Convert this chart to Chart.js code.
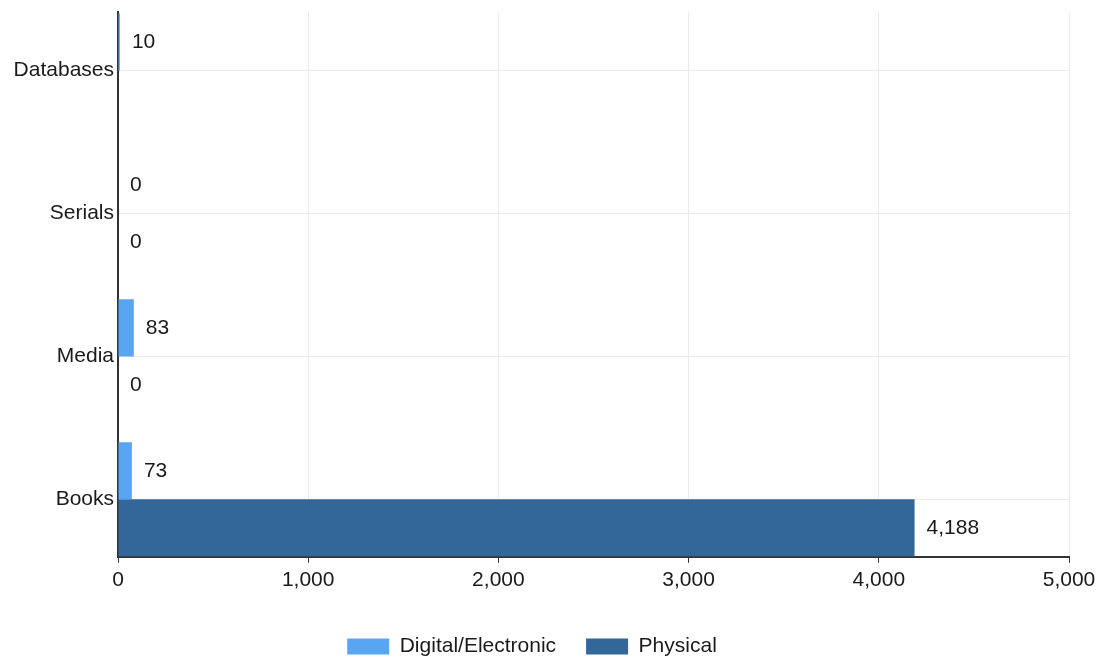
<!DOCTYPE html>
<html>
<head>
<meta charset="utf-8">
<script src="https://cdn.jsdelivr.net/npm/chart.js@4/dist/chart.umd.min.js"></script>
<style>
  html, body { margin: 0; padding: 0; background: #fff; }
  #wrap { width: 1097px; height: 663px; position: relative; }
</style>
</head>
<body>
<div id="wrap"><canvas id="chart"></canvas></div>
<script>
// categories, top to bottom
const categories = ['Databases', 'Serials', 'Media', 'Books'];
const digitalValues = [10, 0, 83, 73];
const physicalValues = [null, 0, 0, 4188];
const xTicks = [0, 1000, 2000, 3000, 4000, 5000];

const FONT = 'Liberation Sans';
const FSIZE = 21;

// value labels to the right of each bar
const valueLabels = {
    id: 'valueLabels',
    afterDatasetsDraw(chart) {
        const ctx = chart.ctx;
        ctx.save();
        ctx.font = FSIZE + 'px "' + FONT + '"';
        ctx.fillStyle = '#1a1a1a';
        ctx.textBaseline = 'middle';
        ctx.textAlign = 'left';
        chart.data.datasets.forEach((ds, i) => {
            const meta = chart.getDatasetMeta(i);
            meta.data.forEach((bar, j) => {
                const v = ds.data[j];
                if (v === null || v === undefined) return;
                ctx.fillText(v.toLocaleString('en-US'), bar.x + 12, bar.y);
            });
        });
        ctx.restore();
    }
};

// the original lets the outer category bands run to the plot edges,
// and its legend sits a bit left of centre and lower
const layoutTweak = {
    id: 'layoutTweak',
    afterLayout(chart) {
        const y = chart.scales.y;
        y._startPixel = y.top - 13;
        y._endPixel = y.bottom + 14;
        y._length = y._endPixel - y._startPixel;
        const lg = chart.legend;
        if (lg) {
            lg.left -= 16; lg.right -= 16;
            lg.top += 4; lg.bottom += 4;
        }
    }
};

new Chart(document.getElementById('chart'), {
    type: 'bar',
    data: {
        labels: categories,
        datasets: [{
            label: 'Digital/Electronic',
            data: digitalValues,
            backgroundColor: '#58a6f2'
        }, {
            label: 'Physical',
            data: physicalValues,
            backgroundColor: '#336699'
        }]
    },
    options: {
        indexAxis: 'y',
        responsive: true,
        maintainAspectRatio: false,
        animation: false,
        datasets: {
            bar: { categoryPercentage: 0.8, barPercentage: 1.0 }
        },
        layout: { padding: { top: 12, right: 1, left: 0, bottom: 0 } },
        scales: {
            x: {
                min: 0,
                max: 5000,
                afterBuildTicks: s => { s.ticks = xTicks.map(v => ({ value: v })); },
                afterFit: s => { s.height += 4; s.paddingRight = 28; },
                grid: { color: '#ebebeb', tickColor: '#333', tickLength: 6 },
                border: { color: '#333', width: 2 },
                ticks: {
                    color: '#1a1a1a',
                    font: { family: FONT, size: FSIZE },
                    padding: 5,
                    maxRotation: 0,
                    callback: v => v.toLocaleString('en-US')
                }
            },
            y: {
                offset: true,
                afterFit: s => { s.width = 118; s.paddingTop = 0; s.paddingBottom = 0; },
                grid: { offset: false, color: '#ebebeb', drawTicks: false },
                border: { color: '#333', width: 2 },
                ticks: {
                    color: '#1a1a1a',
                    font: { family: FONT, size: FSIZE },
                    padding: 4
                }
            }
        },
        plugins: {
            tooltip: { enabled: false },
            legend: {
                position: 'bottom',
                labels: {
                    color: '#1a1a1a',
                    font: { family: FONT, size: FSIZE },
                    boxWidth: 42,
                    boxHeight: 16,
                    padding: 30
                }
            }
        }
    },
    plugins: [valueLabels, layoutTweak]
});
</script>
</body>
</html>
